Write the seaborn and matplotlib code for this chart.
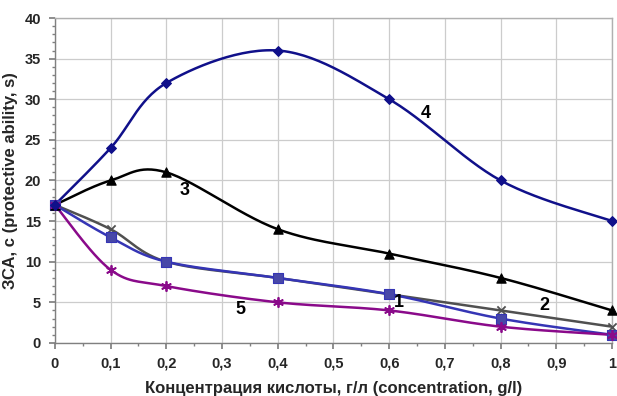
import numpy as np
import pandas as pd
import matplotlib
matplotlib.use("Agg")
import matplotlib.pyplot as plt
import seaborn as sns
from matplotlib.ticker import MultipleLocator, FuncFormatter

conc = [0, 0.1, 0.2, 0.4, 0.6, 0.8, 1.0]
s1 = [17, 13, 10, 8, 6, 3, 1]
s2 = [17, 14, 10, 8, 6, 4, 2]
s3 = [17, 20, 21, 14, 11, 8, 4]
s4 = [17, 24, 32, 36, 30, 20, 15]
s5 = [17, 9, 7, 5, 4, 2, 1]
series_names = ["1", "2", "3", "4", "5"]
xlabel = "Концентрация кислоты, г/л (concentration, g/l)"
ylabel = "ЗСА, с (protective ability, s)"

sns.set_theme(style="white")
plt.rcParams['font.family'] = ['Liberation Sans', 'DejaVu Sans']

fig = plt.figure(figsize=(6.17, 3.96), dpi=100)
ax = fig.add_axes([0.089, 0.134, 0.903, 0.8205])

# screen scale for smoothing (pixels per unit)
sx, sy = 557.0, 325.0 / 40.0

def smooth(xs, ys, n=30):
    P = np.column_stack([np.array(xs) * sx, np.array(ys) * sy])
    m = len(P)
    out = []
    for i in range(m - 1):
        p0 = P[i - 1] if i > 0 else P[i]
        p1 = P[i]
        p2 = P[i + 1]
        p3 = P[i + 2] if i + 2 < m else P[i + 1]
        c1 = p1 + (p2 - p0) / 6.0
        c2 = p2 - (p3 - p1) / 6.0
        t = np.linspace(0, 1, n, endpoint=(i == m - 2))[:, None]
        b = (1 - t) ** 3 * p1 + 3 * (1 - t) ** 2 * t * c1 + 3 * (1 - t) * t ** 2 * c2 + t ** 3 * p2
        out.append(b)
    out = np.vstack(out)
    return out[:, 0] / sx, out[:, 1] / sy

styles = {
    "1": dict(color="#3535b5", marker="s", ms=45, lw=1.8, ec="#3535b5", fc="#4848a8"),
    "2": dict(color="#505050", marker="x", ms=35, lw=1.8, ec="#505050", fc="#505050"),
    "3": dict(color="#000000", marker="^", ms=45, lw=1.8, ec="#000000", fc="#000000"),
    "4": dict(color="#10108a", marker="D", ms=25, lw=1.8, ec="#10108a", fc="#10108a"),
    "5": dict(color="#8a0a8a", marker=(6, 2, 0), ms=45, lw=1.8, ec="#8a0a8a", fc="#8a0a8a"),
}
data = {"1": s1, "2": s2, "3": s3, "4": s4, "5": s5}

ax.grid(True, color="#cccccc", lw=0.9)
ax.set_axisbelow(True)

for name in ["2", "1", "3", "5", "4"]:
    st = styles[name]
    cx, cy = smooth(conc, data[name])
    sns.lineplot(x=cx, y=cy, ax=ax, color=st["color"], lw=st["lw"], sort=False, estimator=None)
    if st["marker"] in ("x", (6, 2, 0)):
        sns.scatterplot(x=conc, y=data[name], ax=ax, marker=st["marker"], s=st["ms"],
                        color=st["color"], linewidth=1.3, zorder=5, clip_on=False)
    else:
        sns.scatterplot(x=conc, y=data[name], ax=ax, marker=st["marker"], s=st["ms"],
                        color=st["fc"], edgecolor=st["ec"], linewidth=0.8, zorder=5, clip_on=False)

ax.set_xlim(0, 1)
ax.set_ylim(0, 40)
ax.xaxis.set_major_locator(MultipleLocator(0.1))
ax.yaxis.set_major_locator(MultipleLocator(5))
ax.xaxis.set_minor_locator(MultipleLocator(0.05))
ax.yaxis.set_minor_locator(MultipleLocator(1))

def fmt(v, pos):
    s = ("%.1f" % v).rstrip("0").rstrip(".")
    return s.replace(".", ",")

ax.xaxis.set_major_formatter(FuncFormatter(fmt))
ax.yaxis.set_major_formatter(FuncFormatter(lambda v, p: "%d" % v))
ax.tick_params(axis="both", which="major", labelsize=10.5, length=4, color="#808080", direction="out", pad=6)
ax.tick_params(axis="both", which="minor", length=2, color="#808080", direction="out")
ax.tick_params(bottom=True, left=True, which="both")
for lab in ax.get_xticklabels() + ax.get_yticklabels():
    lab.set_fontweight("bold")

for side in ["left", "bottom"]:
    ax.spines[side].set_color("#808080")
    ax.spines[side].set_linewidth(1.0)
for side in ["top", "right"]:
    ax.spines[side].set_color("#b0b0b0")
    ax.spines[side].set_linewidth(1.0)

ax.set_xlabel(xlabel, fontsize=12, fontweight="bold", labelpad=7)
ax.set_ylabel(ylabel, fontsize=12, fontweight="bold", labelpad=5)

labels_pos = {"4": (0.665, 28.3), "3": (0.232, 18.8), "1": (0.617, 5.0), "2": (0.879, 4.6), "5": (0.333, 4.1)}
for name, (lx, ly) in labels_pos.items():
    ax.text(lx, ly, name, fontsize=13, fontweight="bold", ha="center", va="center", color="black")

fig.savefig("out.png", dpi=100)
